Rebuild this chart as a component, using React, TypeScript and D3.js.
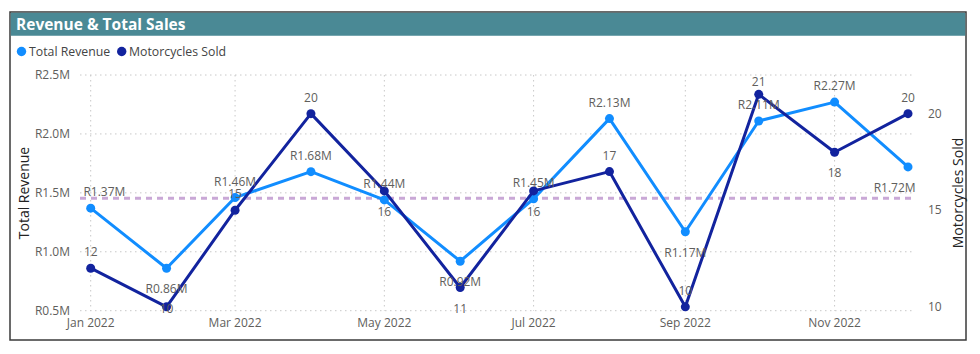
import React from 'react';
import * as d3 from 'd3';

const months = ['2022-01', '2022-02', '2022-03', '2022-04', '2022-05', '2022-06', '2022-07', '2022-08', '2022-09', '2022-10', '2022-11', '2022-12'];
const revenue = [1.37, 0.86, 1.46, 1.68, 1.44, 0.92, 1.45, 2.13, 1.17, 2.11, 2.27, 1.72];
const sold = [12, 10, 15, 20, 16, 11, 16, 17, 10, 21, 18, 20];
// label placement: a = above, b = below, c = on the point
const revenueLabelPos = ['a', 'b', 'a', 'a', 'a', 'b', 'a', 'a', 'b', 'a', 'a', 'b'];
const soldLabelPos = ['a', 'c', 'a', 'a', 'b', 'b', 'b', 'a', 'a', 'a', 'b', 'a'];
const revenueTicks = [0.5, 1.0, 1.5, 2.0, 2.5];
const soldTicks = [10, 15, 20];
const xTickMonths = ['2022-01', '2022-03', '2022-05', '2022-07', '2022-09', '2022-11'];

const revColor = '#118DFF';
const soldColor = '#12239E';
const textColor = '#605E5C';
const gridColor = '#C8C8C8';
const font = '"Segoe UI", "Open Sans", sans-serif';

const parse = d3.timeParse('%Y-%m');
const fmtMonth = d3.timeFormat('%b %Y');

export default function App() {
  const W = 980, H = 354;
  const plotL = 80, plotR = 915;

  const x = d3.scaleTime()
    .domain([parse(months[0]), parse(months[months.length - 1])])
    .range([90.7, 908]);
  const yL = d3.scaleLinear().domain([0.5, 2.5]).range([310.7, 75]);
  const yR = d3.scaleLinear().domain([9.8, 22]).range([310.7, 75]);

  const revPts = months.map((m, i) => ({ x: x(parse(m)), y: yL(revenue[i]), v: revenue[i], pos: revenueLabelPos[i] }));
  const soldPts = months.map((m, i) => ({ x: x(parse(m)), y: yR(sold[i]), v: sold[i], pos: soldLabelPos[i] }));

  const line = d3.line<{ x: number; y: number }>().x(d => d.x).y(d => d.y);
  const median = d3.median(revenue) as number;

  const labelY = (p: { y: number; pos: string }) =>
    p.pos === 'a' ? p.y - 12 : p.pos === 'b' ? p.y + 25 : p.y + 6;
  const clampX = (px: number, txt: string) => {
    const half = txt.length * 3.4;
    return Math.max(plotL + 4 + half, Math.min(plotR - half, px));
  };
  const revFmt = (v: number) => 'R' + v.toFixed(2) + 'M';

  return (
    <svg width={W} height={H} style={{ position: 'absolute', left: 0, top: 0, background: '#fff', fontFamily: font }}>
      {/* frame + title bar */}
      <rect x={10} y={12} width={956} height={328} fill="#fff" stroke="#3a3a3a" strokeWidth={1.5} />
      <rect x={10.75} y={12.75} width={954.5} height={23} fill="#4A8995" />
      <text x={16} y={29.5} fill="#fff" fontSize={15.5} fontWeight={700}>Revenue &amp; Total Sales</text>

      {/* legend */}
      <circle cx={21.5} cy={51.5} r={4.7} fill={revColor} />
      <text x={29} y={56} fontSize={12.3} fill="#444">Total Revenue</text>
      <circle cx={121.7} cy={51.5} r={4.7} fill={soldColor} />
      <text x={129} y={56} fontSize={12.3} fill="#444">Motorcycles Sold</text>

      {/* grid */}
      {revenueTicks.map(t => (
        <line key={'h' + t} x1={plotL} x2={plotR} y1={yL(t)} y2={yL(t)} stroke={gridColor} strokeDasharray="1.5,3.5" />
      ))}
      {xTickMonths.map(m => (
        <line key={'v' + m} x1={x(parse(m))} x2={x(parse(m))} y1={75} y2={310.7} stroke={gridColor} strokeDasharray="1.5,3.5" />
      ))}

      {/* left axis */}
      {revenueTicks.map(t => (
        <text key={'l' + t} x={70} y={yL(t) + 4} textAnchor="end" fontSize={12} fill={textColor}>{'R' + t.toFixed(1) + 'M'}</text>
      ))}
      <text transform={`translate(29,193) rotate(-90)`} textAnchor="middle" fontSize={14} fill="#222">Total Revenue</text>

      {/* right axis */}
      {soldTicks.map(t => (
        <text key={'r' + t} x={928} y={yR(t) + 4} fontSize={12} fill={textColor}>{t}</text>
      ))}
      <text transform={`translate(963,193) rotate(-90)`} textAnchor="middle" fontSize={14} fill="#222">Motorcycles Sold</text>

      {/* x axis */}
      {xTickMonths.map(m => (
        <text key={'x' + m} x={x(parse(m))} y={327} textAnchor="middle" fontSize={12} fill={textColor}>{fmtMonth(parse(m))}</text>
      ))}

      {/* median reference line */}
      <line x1={plotL} x2={plotR} y1={yL(median)} y2={yL(median)} stroke="#C9A8D6" strokeWidth={3} strokeDasharray="6,5" />

      {/* series */}
      <path d={line(revPts) || ''} fill="none" stroke={revColor} strokeWidth={3} strokeLinejoin="round" />
      {revPts.map((p, i) => <circle key={'rc' + i} cx={p.x} cy={p.y} r={4.5} fill={revColor} />)}
      <path d={line(soldPts) || ''} fill="none" stroke={soldColor} strokeWidth={3} strokeLinejoin="round" />
      {soldPts.map((p, i) => <circle key={'sc' + i} cx={p.x} cy={p.y} r={4.5} fill={soldColor} />)}

      {/* data labels */}
      {revPts.map((p, i) => {
        const t = revFmt(p.v);
        return <text key={'rl' + i} x={clampX(p.x, t)} y={labelY(p)} textAnchor="middle" fontSize={12} fill={textColor}>{t}</text>;
      })}
      {soldPts.map((p, i) => {
        const t = String(p.v);
        return <text key={'sl' + i} x={clampX(p.x, t)} y={Math.max(86, labelY(p))} textAnchor="middle" fontSize={12} fill={textColor}>{t}</text>;
      })}
    </svg>
  );
}
